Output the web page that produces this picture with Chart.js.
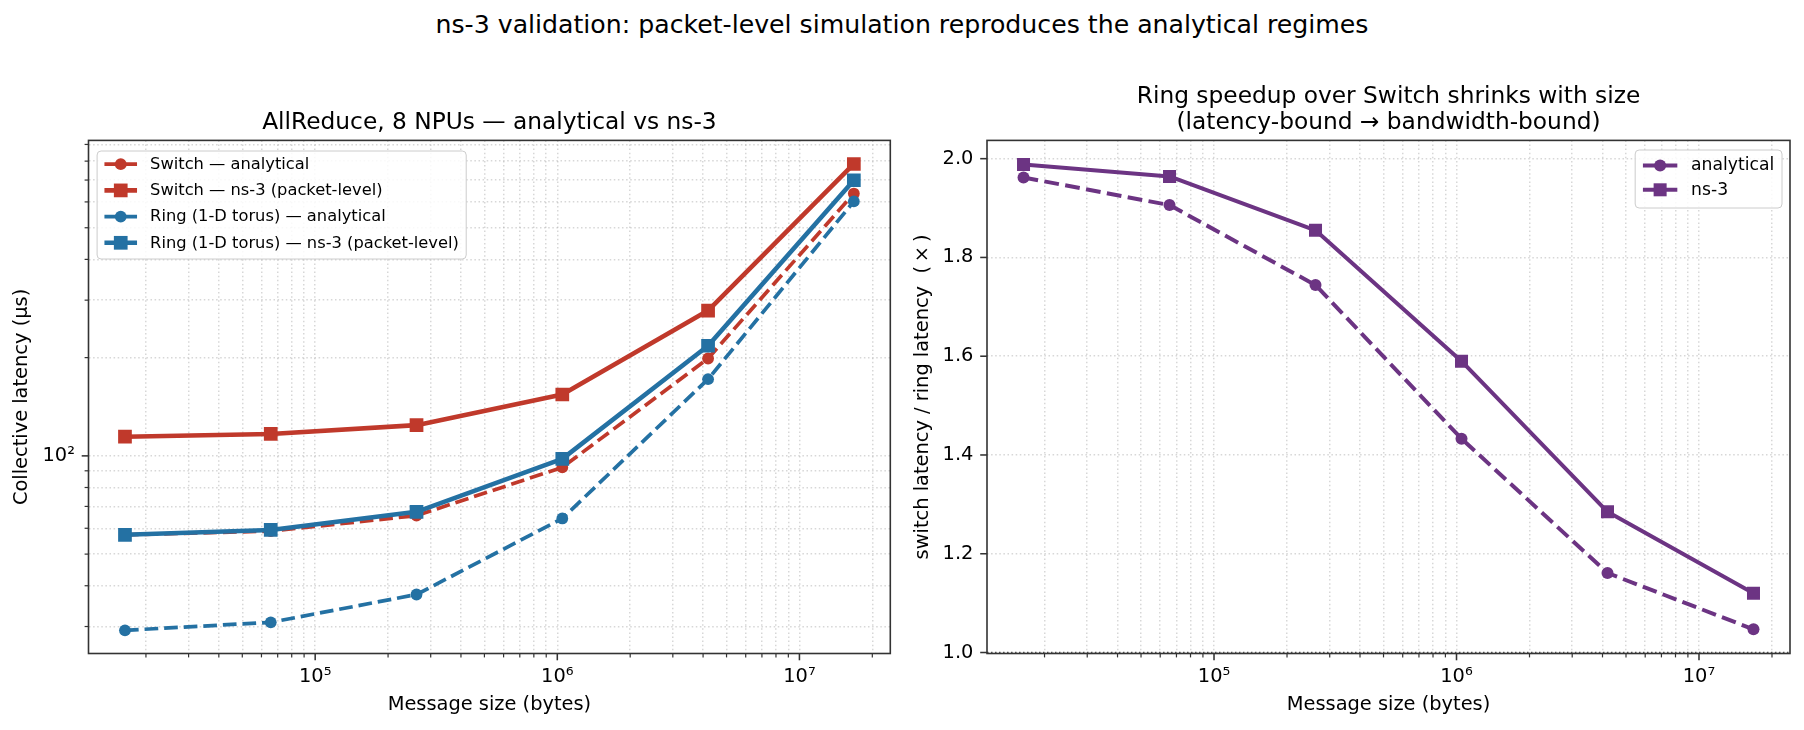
<!DOCTYPE html>
<html>
<head>
<meta charset="utf-8">
<script src="https://cdn.jsdelivr.net/npm/chart.js@4.4.1/dist/chart.umd.min.js"></script>
<style>
  body { margin: 0; background: #fff; width: 1804px; height: 730px; position: relative; overflow: hidden; font-family: 'DejaVu Sans'; }
  #suptitle { position: absolute; left: 0; top: 11.5px; width: 1804px; text-align: center; font-size: 25.2px; line-height: 1; color: #000; }
  canvas { position: absolute; top: 0; }
  #leftChart { left: 0; }
  #rightChart { left: 900px; }
</style>
</head>
<body>
<div id="suptitle">ns-3 validation: packet-level simulation reproduces the analytical regimes</div>
<canvas id="leftChart" width="900" height="730"></canvas>
<canvas id="rightChart" width="904" height="730"></canvas>
<script>
// message sizes (bytes)
const sizes = [16384, 65536, 262144, 1048576, 4194304, 16777216];

// left panel: collective latency (us)
const switchAnalytical = [57.3, 58.8, 65.6, 92.2, 198.8, 636.5];
const switchNs3        = [114.5, 116.7, 124.2, 154.2, 278.8, 784];
const ringAnalytical   = [29.2, 30.9, 37.6, 64.3, 171.8, 602];
const ringNs3          = [57.3, 59.3, 67.4, 97.9, 217.5, 699];

// right panel: switch latency / ring latency
const ratioAnalytical = [1.962, 1.906, 1.744, 1.433, 1.161, 1.047];
const ratioNs3        = [1.988, 1.964, 1.855, 1.590, 1.285, 1.120];

// tick positions
const xTicks = [2e4, 3e4, 4e4, 5e4, 6e4, 7e4, 8e4, 9e4,
                1e5, 2e5, 3e5, 4e5, 5e5, 6e5, 7e5, 8e5, 9e5,
                1e6, 2e6, 3e6, 4e6, 5e6, 6e6, 7e6, 8e6, 9e6,
                1e7, 2e7];
const leftYTicks = [30, 40, 50, 60, 70, 80, 90, 100, 200, 300, 400, 500, 600, 700, 800, 900];
const rightYTicks = [1.0, 1.2, 1.4, 1.6, 1.8, 2.0];

const RED = '#c0392b', BLUE = '#2471a3', PURPLE = '#6c3483';
const FONT = "'DejaVu Sans'";
const GRID = 'rgba(176,176,176,0.5)';
const SPINE = '#333333';

Chart.defaults.font.family = FONT;
Chart.defaults.color = '#000';

const SUP = {'0':'⁰','1':'¹','2':'²','3':'³','4':'⁴','5':'⁵','6':'⁶','7':'⁷','8':'⁸','9':'⁹','-':'⁻'};
function isPow10(v) {
  const e = Math.log10(v);
  return Math.abs(e - Math.round(e)) < 1e-9;
}
function pow10Label(v) {
  if (!isPow10(v)) return '';
  return '10' + String(Math.round(Math.log10(v))).split('').map(c => SUP[c]).join('');
}

function series(label, ys, color, dashed, marker, lw, r, order) {
  return {
    label,
    data: sizes.map((x, i) => ({x, y: ys[i]})),
    borderColor: color,
    backgroundColor: color,
    borderWidth: lw,
    borderDash: dashed ? [3.7 * lw, 1.6 * lw] : [],
    borderJoinStyle: 'round',
    pointStyle: marker,
    pointRadius: r,
    pointHoverRadius: r,
    pointBorderWidth: 0,
    pointBackgroundColor: color,
    tension: 0,
    fill: false,
    order
  };
}

// spines, tick marks, legend and subplot titles, drawn matplotlib-like
function decor(cfg) {
  return {
    id: 'decor',
    beforeDatasetsDraw(chart) {
      if (cfg.hline === undefined) return;
      const {ctx, chartArea: a} = chart;
      const y = chart.scales.y.getPixelForValue(cfg.hline);
      ctx.save();
      ctx.strokeStyle = '#555';
      ctx.lineWidth = 1.5;
      ctx.setLineDash([1.5, 2.5]);
      ctx.beginPath(); ctx.moveTo(a.left, y); ctx.lineTo(a.right, y); ctx.stroke();
      ctx.restore();
    },
    afterDraw(chart) {
      const {ctx, chartArea: a} = chart;
      const xs = chart.scales.x, ys = chart.scales.y;
      ctx.save();
      // tick marks
      ctx.strokeStyle = SPINE;
      xTicks.forEach(v => {
        const major = isPow10(v);
        const px = xs.getPixelForValue(v);
        ctx.lineWidth = major ? 1.55 : 1.2;
        ctx.beginPath(); ctx.moveTo(px, a.bottom); ctx.lineTo(px, a.bottom + (major ? 6.8 : 3.9)); ctx.stroke();
      });
      cfg.yTicks.forEach(v => {
        const major = cfg.yLog ? isPow10(v) : true;
        const py = ys.getPixelForValue(v);
        ctx.lineWidth = major ? 1.55 : 1.2;
        ctx.beginPath(); ctx.moveTo(a.left, py); ctx.lineTo(a.left - (major ? 6.8 : 3.9), py); ctx.stroke();
      });
      // spines
      ctx.lineWidth = 1.6;
      ctx.strokeRect(a.left, a.top, a.right - a.left, a.bottom - a.top);

      // subplot title
      ctx.fillStyle = '#000';
      ctx.font = '23.3px ' + FONT;
      ctx.textAlign = 'center';
      ctx.textBaseline = 'alphabetic';
      const cx = (a.left + a.right) / 2;
      cfg.title.forEach((line, i) => ctx.fillText(line, cx, cfg.titleBase[i]));

      // legend
      const lg = cfg.legend;
      const fs = lg.fontSize;
      ctx.font = fs + 'px ' + FONT;
      const sets = chart.data.datasets;
      const textW = Math.max(...sets.map(d => ctx.measureText(d.label).width));
      const handle = 2 * fs, pad = 0.45 * fs, gap = 0.8 * fs;
      const w = pad + handle + gap + textW + pad;
      const bx = lg.right !== undefined ? a.right - lg.right - w : a.left + lg.left;
      const by = a.top + lg.top;
      ctx.fillStyle = 'rgba(255,255,255,0.85)';
      ctx.strokeStyle = '#cccccc';
      ctx.lineWidth = 1;
      ctx.beginPath();
      ctx.roundRect(bx, by, w, lg.height, 4);
      ctx.fill(); ctx.stroke();
      sets.forEach((d, i) => {
        const y = by + lg.first + i * lg.step;
        const x0 = bx + pad;
        ctx.strokeStyle = d.borderColor;
        ctx.lineWidth = d.borderWidth;
        ctx.setLineDash(d.borderDash);
        ctx.beginPath(); ctx.moveTo(x0, y); ctx.lineTo(x0 + handle, y); ctx.stroke();
        ctx.setLineDash([]);
        ctx.fillStyle = d.borderColor;
        Chart.helpers.drawPoint(ctx, {pointStyle: d.pointStyle, radius: d.pointRadius, rotation: 0, borderWidth: 0}, x0 + handle / 2, y);
        ctx.fillStyle = '#000';
        ctx.textAlign = 'left';
        ctx.textBaseline = 'middle';
        ctx.fillText(d.label, x0 + handle + gap, y + 0.5);
      });
      ctx.restore();
    }
  };
}

const X_MIN = 11582, X_MAX = 23730000;

function xScale() {
  return {
    type: 'logarithmic',
    min: X_MIN,
    max: X_MAX,
    afterFit: s => { s.height = 76.5; },
    afterBuildTicks: s => { s.ticks = xTicks.map(v => ({value: v})); },
    grid: { color: GRID, lineWidth: 1.5, drawTicks: false },
    border: { display: false, dash: [1.5, 2.6] },
    ticks: { autoSkip: false, maxRotation: 0, padding: 12, color: '#000', font: { size: 19.4 }, callback: v => pow10Label(v) },
    title: { display: true, text: 'Message size (bytes)', color: '#000', font: { size: 19.4 }, padding: { top: 0, bottom: 13 } }
  };
}

// left: latency, log-log
new Chart(document.getElementById('leftChart'), {
  type: 'line',
  data: {
    datasets: [
      series('Switch — analytical', switchAnalytical, RED, true, 'circle', 3.7, 5.9, 4),
      series('Switch — ns-3 (packet-level)', switchNs3, RED, false, 'rect', 4.6, 9.7, 3),
      series('Ring (1-D torus) — analytical', ringAnalytical, BLUE, true, 'circle', 3.7, 5.9, 2),
      series('Ring (1-D torus) — ns-3 (packet-level)', ringNs3, BLUE, false, 'rect', 4.6, 9.7, 1)
    ]
  },
  options: {
    responsive: false,
    animation: false,
    events: [],
    layout: { padding: { left: 0, top: 140.4, right: 7.3, bottom: 0 } },
    plugins: { legend: { display: false }, tooltip: { enabled: false } },
    scales: {
      x: xScale(),
      y: {
        type: 'logarithmic',
        min: 24.8,
        max: 926,
        afterFit: s => { s.width = 88.5; },
        afterBuildTicks: s => { s.ticks = leftYTicks.map(v => ({value: v})); },
        grid: { color: GRID, lineWidth: 1.5, drawTicks: false },
        border: { display: false, dash: [1.5, 2.6] },
        ticks: { autoSkip: false, padding: 13.6, color: '#000', font: { size: 19.4 }, callback: v => pow10Label(v) },
        title: { display: true, text: 'Collective latency (µs)', color: '#000', font: { size: 19.4 }, padding: { top: 10.3, bottom: 0 } }
      }
    }
  },
  plugins: [decor({
    yTicks: leftYTicks, yLog: true,
    title: ['AllReduce, 8 NPUs — analytical vs ns-3'], titleBase: [129.3],
    legend: { fontSize: 16.3, left: 8.6, top: 10.6, height: 108, first: 13.2, step: 26.2 }
  })]
});

// right: speedup ratio
new Chart(document.getElementById('rightChart'), {
  type: 'line',
  data: {
    datasets: [
      series('analytical', ratioAnalytical, PURPLE, true, 'circle', 4.0, 6.0, 2),
      series('ns-3', ratioNs3, PURPLE, false, 'rect', 4.0, 9.2, 1)
    ]
  },
  options: {
    responsive: false,
    animation: false,
    events: [],
    layout: { padding: { left: 0, top: 140.4, right: 14, bottom: 0 } },
    plugins: { legend: { display: false }, tooltip: { enabled: false } },
    scales: {
      x: xScale(),
      y: {
        type: 'linear',
        min: 0.998,
        max: 2.037,
        afterFit: s => { s.width = 87; },
        afterBuildTicks: s => { s.ticks = rightYTicks.map(v => ({value: v})); },
        grid: { color: GRID, lineWidth: 1.5, drawTicks: false },
        border: { display: false, dash: [1.5, 2.6] },
        ticks: { autoSkip: false, padding: 13.6, color: '#000', font: { size: 19.4 }, callback: v => v.toFixed(1) },
        title: { display: true, text: 'switch latency / ring latency  (\u2009×\u2009)', color: '#000', font: { size: 19.4 }, padding: { top: 11.7, bottom: 0 } }
      }
    }
  },
  plugins: [decor({
    yTicks: rightYTicks, yLog: false, hline: 1.0,
    title: ['Ring speedup over Switch shrinks with size', '(latency-bound → bandwidth-bound)'], titleBase: [102.5, 129.3],
    legend: { fontSize: 17.2, right: 8, top: 9.6, height: 58, first: 15.5, step: 24.3 }
  })]
});
</script>
</body>
</html>
